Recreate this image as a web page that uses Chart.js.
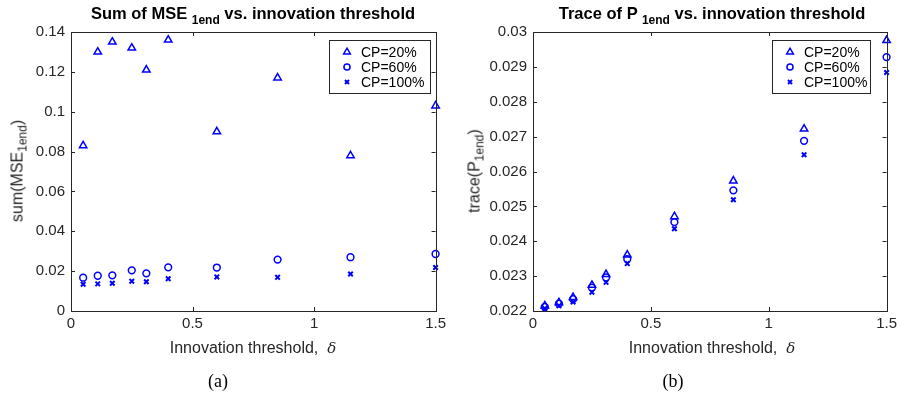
<!DOCTYPE html>
<html>
<head>
<meta charset="utf-8">
<script src="https://cdn.jsdelivr.net/npm/chart.js@4.4.1/dist/chart.umd.min.js"></script>
<style>
  body { margin: 0; background: #fff; }
  #wrap { position: relative; width: 901px; height: 400px; font-family: "Liberation Sans", Arial, sans-serif; color: #262626; }
  .pane { position: absolute; top: 0; height: 400px; }
  .lbl { position: absolute; white-space: nowrap; transform: translate(-50%, -50%); }
  .title { font-weight: bold; font-size: 16.5px; color: #000; }
  .title sub { font-size: 12px; vertical-align: -5px; }
  .ylab sub { font-size: 12px; vertical-align: -4px; }
  .xlab { font-size: 16px; }
  .ylab { font-size: 16px; transform: translate(-50%, -50%) rotate(-90deg); }
  .delta { font-family: "DejaVu Serif", "Liberation Serif", serif; font-style: italic; font-size: 15px; }
  .cap { font-family: "Liberation Serif", "DejaVu Serif", serif; font-size: 18px; color: #000; }
</style>
</head>
<body>
<div id="wrap">
  <div class="pane" style="left:0;width:450px"><canvas id="mse" width="450" height="400"></canvas></div>
  <div class="pane" style="left:450px;width:451px"><canvas id="trace" width="451" height="400"></canvas></div>

  <div class="lbl title" style="left:253px;top:15px">Sum of MSE <sub>1end</sub> vs. innovation threshold</div>
  <div class="lbl title" style="left:712px;top:15px">Trace of P <sub>1end</sub> vs. innovation threshold</div>
  <div class="lbl ylab" style="left:19px;top:171px">sum(MSE<sub>1end</sub>)</div>
  <div class="lbl ylab" style="left:476px;top:171px">trace(P<sub>1end</sub>)</div>
  <div class="lbl xlab" style="left:253px;top:348px">Innovation threshold,&nbsp; <span class="delta">δ</span></div>
  <div class="lbl xlab" style="left:712px;top:348px">Innovation threshold,&nbsp; <span class="delta">δ</span></div>
  <div class="lbl cap" style="left:218px;top:381px">(a)</div>
  <div class="lbl cap" style="left:673px;top:381px">(b)</div>
</div>
<script>
// innovation thresholds (x)
const delta = [0.05, 0.11, 0.17, 0.25, 0.31, 0.4, 0.6, 0.85, 1.15, 1.5];

// sum of MSE_1end
const mse20 = [0.083, 0.130, 0.135, 0.132, 0.121, 0.136, 0.090, 0.117, 0.078, 0.103];
const mse60 = [0.0167, 0.0177, 0.0179, 0.0204, 0.0189, 0.0219, 0.0218, 0.0258, 0.0270, 0.0286];
const mse100 = [0.0134, 0.0136, 0.0139, 0.0149, 0.0147, 0.0162, 0.0171, 0.0169, 0.0186, 0.0218];

// trace of P_1end
const tr20 = [0.02215, 0.02224, 0.02239, 0.02274, 0.02305, 0.02361, 0.02471, 0.02573, 0.02722, 0.02976];
const tr60 = [0.02212, 0.02221, 0.02234, 0.02267, 0.02296, 0.02349, 0.02455, 0.02546, 0.02688, 0.02928];
const tr100 = [0.02207, 0.02215, 0.02226, 0.02254, 0.02282, 0.02336, 0.02436, 0.02519, 0.02648, 0.02884];

const labels = ["CP=20%", "CP=60%", "CP=100%"];
const xTicks = [0, 0.5, 1, 1.5];
const mseTicks = [0, 0.02, 0.04, 0.06, 0.08, 0.1, 0.12, 0.14];
const trTicks = [0.022, 0.023, 0.024, 0.025, 0.026, 0.027, 0.028, 0.029, 0.03];

const BLUE = "#0000ff";
const AXIS = "#262626";
const FONT = "'Liberation Sans', Arial, sans-serif";
const marks = [
  { pointStyle: "triangle", radius: 4.3, borderWidth: 1.5 },
  { pointStyle: "circle", radius: 3.4, borderWidth: 1.5 },
  { pointStyle: "crossRot", radius: 3.2, borderWidth: 2 }
];

const pts = (ys) => ys.map((y, i) => ({ x: delta[i], y: y }));

// box with inward tick marks, like MATLAB axes
const boxPlugin = {
  id: "box",
  afterDatasetsDraw(chart) {
    const { ctx, chartArea: a, scales } = chart;
    ctx.save();
    ctx.strokeStyle = AXIS;
    ctx.lineWidth = 1;
    ctx.strokeRect(Math.round(a.left) + 0.5, Math.round(a.top) + 0.5,
      Math.round(a.right - a.left), Math.round(a.bottom - a.top));
    const L = 4;
    ctx.beginPath();
    scales.x.ticks.forEach(t => {
      const px = Math.round(scales.x.getPixelForValue(t.value)) + 0.5;
      ctx.moveTo(px, a.bottom); ctx.lineTo(px, a.bottom - L);
      ctx.moveTo(px, a.top); ctx.lineTo(px, a.top + L);
    });
    scales.y.ticks.forEach(t => {
      const py = Math.round(scales.y.getPixelForValue(t.value)) + 0.5;
      ctx.moveTo(a.left, py); ctx.lineTo(a.left + L, py);
      ctx.moveTo(a.right, py); ctx.lineTo(a.right - L, py);
    });
    ctx.stroke();
    ctx.restore();
  }
};

// boxed legend inside the plot, top right
const legendPlugin = {
  id: "boxLegend",
  afterDraw(chart, args, opts) {
    const { ctx } = chart;
    const x0 = opts.left, y0 = 40, w = opts.width, h = 53;
    ctx.save();
    ctx.fillStyle = "#fff";
    ctx.fillRect(x0, y0, w, h);
    ctx.strokeStyle = AXIS;
    ctx.lineWidth = 1;
    ctx.strokeRect(x0 + 0.5, y0 + 0.5, w, h);
    ctx.font = "14px " + FONT;
    ctx.textBaseline = "middle";
    chart.data.datasets.forEach((ds, i) => {
      const yy = y0 + 12 + i * 15;
      ctx.strokeStyle = BLUE;
      ctx.fillStyle = "rgba(0,0,0,0)";
      ctx.lineWidth = marks[i].borderWidth;
      Chart.helpers.drawPoint(ctx, { pointStyle: marks[i].pointStyle, radius: marks[i].radius * 0.9, rotation: 0, borderWidth: marks[i].borderWidth }, x0 + 18, yy);
      ctx.fillStyle = "#000";
      ctx.fillText(ds.label, x0 + 32, yy + 1);
    });
    ctx.restore();
  }
};

const fmt = (v) => String(parseFloat(v.toFixed(4)));

function makeChart(id, series, yTicks, yWidth, padRight, legLeft, legWidth) {
  return new Chart(document.getElementById(id), {
    type: "scatter",
    data: {
      datasets: series.map((ys, i) => ({
        label: labels[i],
        data: pts(ys),
        pointStyle: marks[i].pointStyle,
        pointRadius: marks[i].radius,
        pointHoverRadius: marks[i].radius,
        pointBorderWidth: marks[i].borderWidth,
        borderColor: BLUE,
        backgroundColor: "rgba(0,0,0,0)",
        clip: false
      }))
    },
    options: {
      responsive: false,
      animation: false,
      layout: { padding: { top: 32, right: padRight, bottom: 0, left: 0 } },
      plugins: {
        legend: { display: false },
        tooltip: { enabled: false },
        boxLegend: { left: legLeft, width: legWidth }
      },
      scales: {
        x: {
          type: "linear",
          min: xTicks[0], max: xTicks[xTicks.length - 1],
          afterBuildTicks: (s) => { s.ticks = xTicks.map(v => ({ value: v })); },
          afterFit: (s) => { s.height = 89; },
          grid: { display: false, drawTicks: false },
          border: { display: false },
          ticks: { padding: 4, color: AXIS, font: { family: FONT, size: 15 }, callback: fmt, maxRotation: 0 }
        },
        y: {
          type: "linear",
          min: yTicks[0], max: yTicks[yTicks.length - 1],
          afterBuildTicks: (s) => { s.ticks = yTicks.map(v => ({ value: v })); },
          afterFit: (s) => { s.width = yWidth; },
          grid: { display: false, drawTicks: false },
          border: { display: false },
          ticks: { padding: 6, color: AXIS, font: { family: FONT, size: 15 }, callback: fmt }
        }
      }
    },
    plugins: [boxPlugin, legendPlugin]
  });
}

makeChart("mse", [mse20, mse60, mse100], mseTicks, 71, 14, 329, 101);
makeChart("trace", [tr20, tr60, tr100], trTicks, 83, 12, 322, 98);
</script>
</body>
</html>
